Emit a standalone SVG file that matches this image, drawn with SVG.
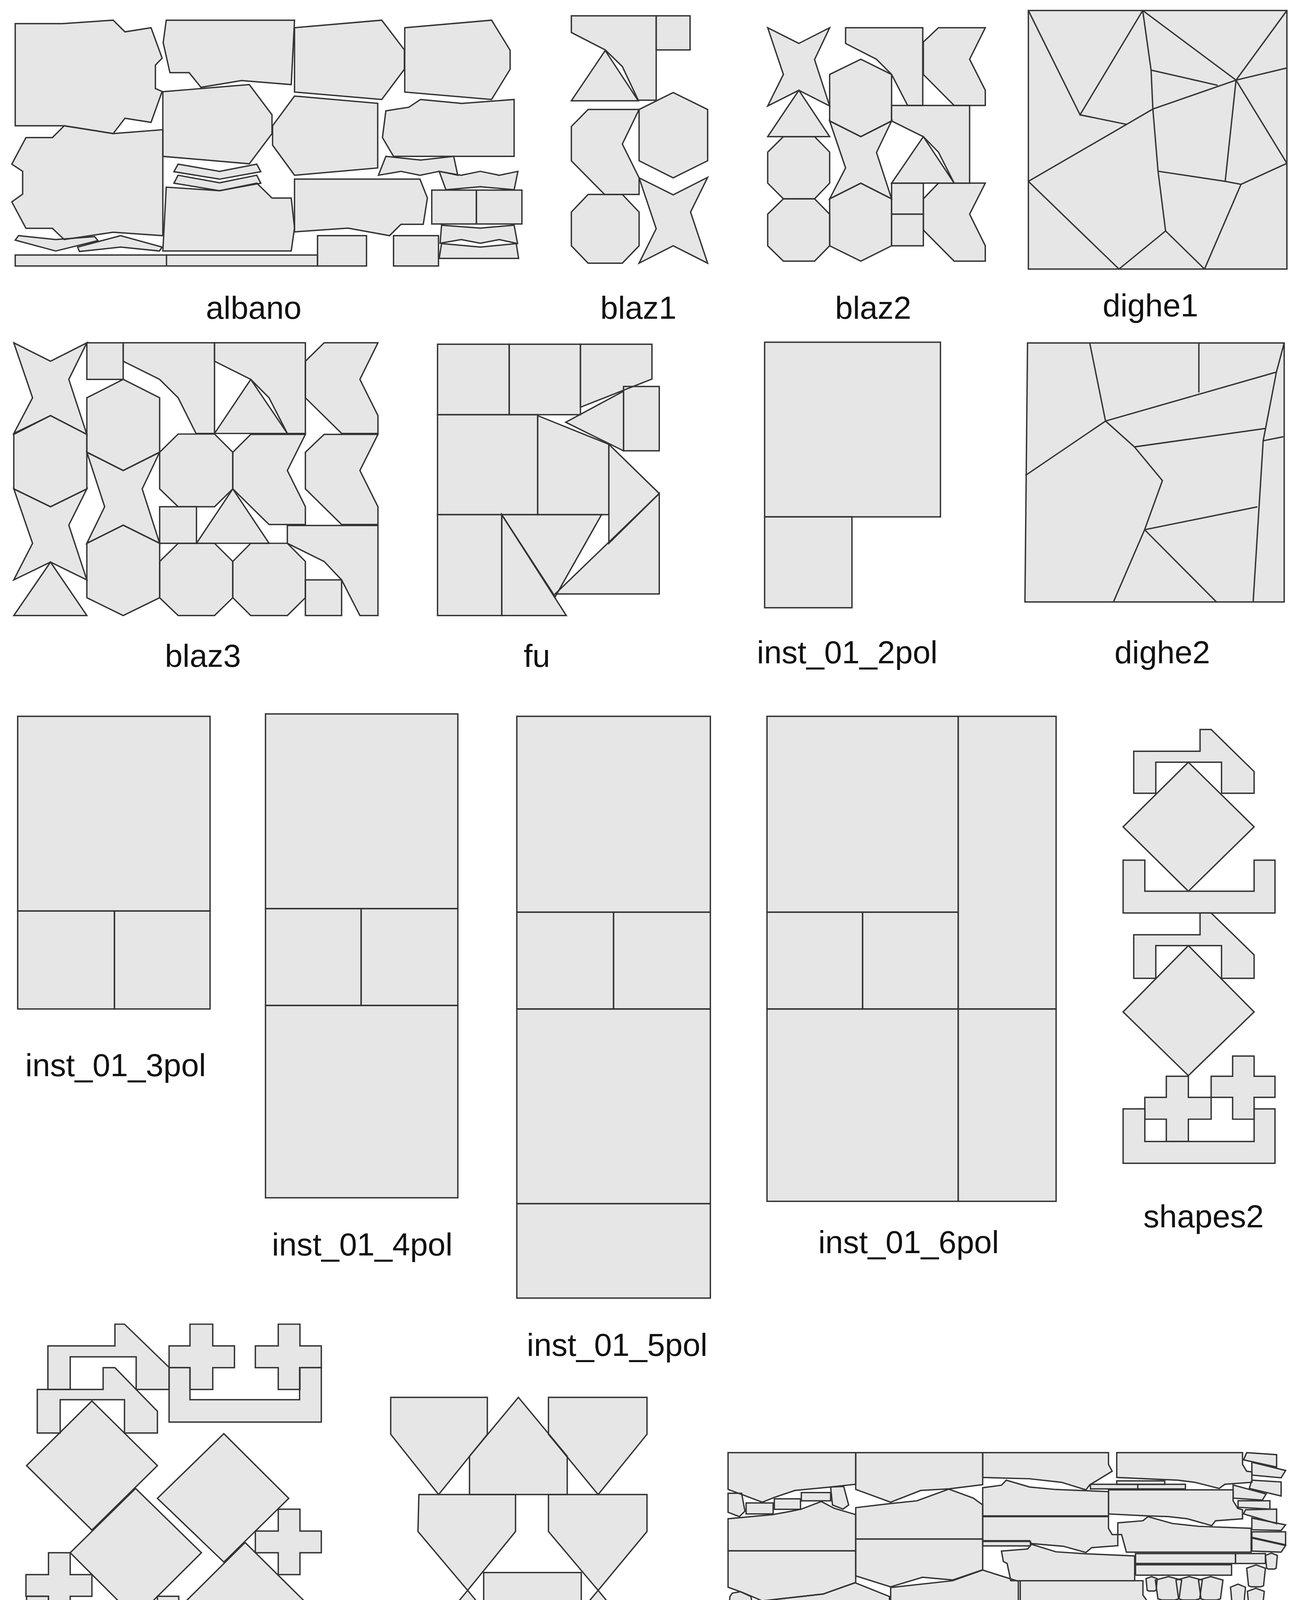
<svg xmlns="http://www.w3.org/2000/svg" width="3324" height="4743" viewBox="0 0 3324 4743">
<style>
.fo{fill:#e6e6e6;stroke:none}
.so{fill:none;stroke:#333;stroke-width:1.15;stroke-linejoin:miter}
text{font-family:"Liberation Sans",Arial,sans-serif;font-size:27px;fill:#111;text-anchor:middle}
</style>
<defs>
<g id="s_albano">
<polygon points="12.9,20 53,20 95.9,17.1 105.9,27 128,23.5 137.4,49.3 131.7,55.2 131.7,75 137.4,77.5 128,103.7 105.9,100.2 95.9,113.2 54.4,106.6 12.9,106.6"/>
<polygon points="140.9,17.1 249.6,17.1 246.8,71.7 204.7,68.3 170.3,74 160.3,61.6 144,61.6 138.3,36.1"/>
<polygon points="249.6,23.5 323.5,17.1 342.7,42.3 342.7,58.7 323.5,84.3 249.6,78"/>
<polygon points="343,23.5 416.6,17.1 432.3,42.6 432.3,58.7 416.6,84.3 343,78"/>
<polygon points="138,77.7 211.3,71.7 230.5,97.3 230.5,113.2 211.3,138.8 138,132.5"/>
<polygon points="249.6,81.4 320.1,87.6 320.1,142.3 249.6,148.5 231,123 231,106.6"/>
<polygon points="356.4,84.3 391.4,87.6 435.7,84.3 435.7,132.5 333.5,132.5 324.1,116.6 327,93.9 346.4,90.9"/>
<polygon points="54.4,106.6 95.9,113.2 138,109.9 138,199.7 95.9,196.8 54.4,203 44.4,193.5 22,193.5 10,171.1 19.2,164.5 19.2,145.2 10,139.1 22,116.6 44.4,116.6"/>
<polygon points="150.9,139.1 186.1,145.2 217.6,139.1 221,145.5 186.1,151.8 147.4,145.5"/>
<polygon points="150.9,148.5 186.1,154.9 217.6,148.5 221,155.2 186.1,161.6 147.4,155.2"/>
<polygon points="140.9,158.6 186.1,161.6 217.6,155.2 230.5,167.8 246.8,167.8 249.6,193.1 246.8,212.7 138,212.7"/>
<polygon points="249.6,151.8 355.9,151.8 362.2,167.8 358.7,190.1 339.8,190.1 330.1,199.7 294.9,193.3 249.6,196.5"/>
<polygon points="327,132.5 356.4,135.6 384.5,132.5 387.9,148.5 372.2,145.2 355.9,148.5 339.8,145.2 320.7,148.5"/>
<polygon points="372.2,145.2 390.8,148.5 407.1,145.2 423.1,148.5 438.9,145.2 435.7,160.8 407.1,158.2 377.9,160.8"/>
<rect x="365.9" y="161.1" width="37.8" height="28.7"/>
<rect x="403.7" y="161.1" width="38.6" height="28.7"/>
<polygon points="374.2,190.8 407.1,193.3 435.7,190.8 438.6,206.4 423.1,203 407.1,206.1 390.8,203 373,206.1"/>
<polygon points="374.2,206.4 407.1,209.4 437.5,206.4 439.5,219 372.2,219"/>
<polygon points="15.7,199.7 47.2,203 80.2,200.5 83,203.9 47.2,212.7 12.9,203.5"/>
<polygon points="65.8,209.4 102.2,199.7 137.4,209.4 135.1,212.7 102.2,209.4 67.3,213.1"/>
<rect x="12.9" y="216.1" width="256.2" height="9.3"/>
<line x1="141.1" y1="216.1" x2="141.1" y2="225.4"/>
<rect x="269.1" y="199.7" width="41.5" height="25.7"/>
<rect x="333.5" y="199.7" width="38.1" height="25.7"/>
</g>
<g id="s_blaz1">
<polygon points="484.2,13.4 556.1,13.4 556.1,84.9 540.9,84.9 527.4,56.4 512.9,42.3 484.2,27.5"/>
<rect x="556.1" y="13.4" width="28.7" height="28.9"/>
<polygon points="484.2,85.4 512.9,42.8 540.9,85.4"/>
<polygon points="498.4,92.8 541.6,92.8 527.4,122.1 541.6,150.7 541.6,164.8 512.4,164.8 484.2,136.3 484.2,107.2"/>
<polygon points="541.6,92.8 570.5,78.4 599.7,92.8 599.7,136.2 570.5,150.7 541.6,136.2"/>
<polygon points="498.4,164.8 527.4,164.8 541.6,179.7 541.6,208.3 527.4,223 498.4,223 484.2,208.3 484.2,179.7"/>
<polygon points="541.6,150.7 570.5,165.1 599.7,150.3 585.2,179.7 599.7,223 570.5,208.3 541.6,223 556.1,193.8"/>
</g>
<g id="s_blaz2">
<polygon points="650.6,23.5 677,36.8 703.1,23.5 690.3,50.5 703.1,89.8 677,76.5 650.6,89.8 663.9,63.1"/>
<polygon points="650.6,115.8 677,76.5 703.1,115.8"/>
<polygon points="663.9,115.8 690.3,115.8 703.1,128.9 703.1,155.2 690.3,168.5 663.9,168.5 650.6,155.2 650.6,128.9"/>
<polygon points="663.9,168.5 690.3,168.5 703.1,181.5 703.1,208.3 690.3,221.3 663.9,221.3 650.6,208.3 650.6,181.5"/>
<polygon points="716.6,23.5 782,23.5 782,89.4 769.2,89.4 755.6,63.1 742.8,50.2 716.6,36.8"/>
<polygon points="795.3,23.5 835,23.5 821.7,50.2 835,76.5 835,89.4 808.6,89.4 782.5,63.1 782.5,35.6"/>
<polygon points="703.1,63.1 729.5,50.2 755.6,63.1 755.6,102.5 729.5,115.8 703.1,102.5"/>
<polygon points="703.1,102.5 729.5,115.8 755.6,102.5 742.8,129.2 755.6,168.5 729.5,155.2 703.1,168.5 716.6,142.3"/>
<polygon points="703.1,168.5 729.5,155.2 755.6,168.5 755.6,208.3 729.5,221.3 703.1,208.3"/>
<polygon points="755.6,89.4 821.7,89.4 821.7,155.2 808.6,155.2 795.3,128.9 782.5,115.8 755.6,102.5"/>
<polygon points="755.6,155.2 782.5,115.8 808.6,155.2"/>
<rect x="755.6" y="155.2" width="26.9" height="26.3"/>
<rect x="755.6" y="181.5" width="26.9" height="26.8"/>
<polygon points="795.3,155.2 835,155.2 821.7,181.5 835,208.3 835,221.3 808.6,221.3 782.5,195 782.5,168.5"/>
</g>
<g id="s_dighe1">
<rect x="871.5" y="8.9" width="219.1" height="219.1"/>
<polyline points="871.5,8.9 915.3,97.3 968.4,8.9"/>
<polyline points="915.3,97.3 954.7,105.4"/>
<polyline points="871.5,153.7 954.7,105.4 977,92.4 1047.5,67.9"/>
<polyline points="968.4,8.9 975.5,59.4 977,92.4 981.4,145.1 987.8,195.7"/>
<polyline points="975.5,59.4 1031.9,72.3"/>
<polyline points="968.4,8.9 1047.5,67.9 1090.6,8.9"/>
<polyline points="1047.5,67.9 1090.6,57.6"/>
<polyline points="1047.5,67.9 1090.6,138.4"/>
<polyline points="1047.5,67.9 1038.3,153.7"/>
<polyline points="981.4,145.1 1038.3,153.7 1051.7,156.2 1090.6,138.4"/>
<polyline points="1051.7,156.2 1020.8,228"/>
<polyline points="871.5,153.7 948.3,228 987.8,195.7 1020.8,228"/>
</g>
<g id="s_blaz3">
<polygon points="11.7,290.5 42.8,306.1 73.6,290.5 58.3,321.5 73.6,368.1 42.8,352.2 11.7,367.3 27.6,337.1"/>
<polygon points="11.7,368.1 42.8,352.2 73.6,368.1 73.6,414.3 42.8,429.4 11.7,414.3"/>
<polygon points="11.7,414.3 42.8,429.4 73.6,414.3 58.3,445 73.6,491.4 42.8,476.3 11.7,491.4 27.6,460.4"/>
<polygon points="11.7,521.6 42.8,476.3 73.6,521.6"/>
<rect x="73.6" y="290.5" width="30.8" height="31"/>
<polygon points="104.4,290.5 181.8,290.5 181.8,367.3 166.1,367.3 151,337.1 135.3,321.5 104.4,306.1"/>
<polygon points="73.6,337.1 104.4,321.5 135.3,337.1 135.3,383.2 104.4,398.7 73.6,383.2"/>
<polygon points="73.6,383.2 104.4,398.7 135.3,383.2 120.5,414.3 135.3,460.4 104.4,445 73.6,460.4 88.7,429.4"/>
<polygon points="73.6,460.4 104.4,445 135.3,460.4 135.3,506.5 104.4,521.6 73.6,506.5"/>
<polygon points="181.8,290.5 258.8,290.5 258.8,367.3 243.5,367.3 228,337.1 212.5,321.5 181.8,306.1"/>
<polygon points="181.8,367.3 212.5,321.5 243.5,367.3"/>
<polygon points="274.7,290.5 320.3,290.5 305,321.5 320.3,352.2 320.3,367.3 289.5,367.3 258.8,337.1 258.8,306.1"/>
<polygon points="151,367.8 181.8,367.8 197.3,383.2 197.3,414.3 181.8,429.4 151,429.4 135.3,414.3 135.3,383.2"/>
<polygon points="212.5,368.1 258.8,368.1 243.5,398.7 258.8,429.4 258.8,444.5 228,444.5 197.3,414.3 197.3,383.2"/>
<polygon points="274.7,368.1 320.3,368.1 305,398.7 320.3,429.4 320.3,444.5 289.5,444.5 258.8,414.3 258.8,383.2"/>
<rect x="135.3" y="429.4" width="31.2" height="31"/>
<polygon points="166.5,460.4 197.3,414.3 228,460.4"/>
<polygon points="243.5,445.3 320.3,445.3 320.3,521.6 305,521.6 289.5,491.4 274.7,475.8 243.5,460.4"/>
<polygon points="151,460.4 181.8,460.4 197.3,475.8 197.3,506.5 181.8,521.6 151,521.6 135.3,506.5 135.3,475.8"/>
<polygon points="212.5,460.4 243.5,460.4 258.8,475.8 258.8,506.5 243.5,521.6 212.5,521.6 197.3,506.5 197.3,475.8"/>
<rect x="258.8" y="491.4" width="30.7" height="30.2"/>
</g>
<g id="s_fu">
<rect x="370.8" y="291.7" width="60.7" height="59.7"/>
<rect x="431.5" y="291.7" width="60.4" height="59.7"/>
<polygon points="491.9,291.7 552.5,291.7 552.5,321.2 491.9,345.1"/>
<rect x="528.4" y="327.5" width="30.3" height="54.5"/>
<polygon points="479.4,357.8 528.4,331.5 528.4,382"/>
<rect x="370.8" y="351.4" width="84.8" height="84.7"/>
<polygon points="455.6,352.2 516,376.5 516,436.1 455.6,436.1"/>
<polygon points="516,376.5 558.7,418.2 516,460.4"/>
<polygon points="470.5,503.3 558.7,418.2 558.7,503.3"/>
<rect x="370.8" y="436.1" width="54.4" height="85.5"/>
<polygon points="425.2,436.1 509.8,436.1 470.5,505.7"/>
<polygon points="425.2,436.1 425.2,521.6 479.9,521.6"/>
</g>
<g id="s_inst2">
<rect x="648" y="290" width="149" height="148"/>
<rect x="648" y="438" width="74" height="77"/>
</g>
<g id="s_dighe2">
<polygon points="870.8,290.6 1088.3,290.6 1088.3,510.1 868.6,510.1"/>
<polyline points="923.5,290.6 936.9,356.8 869,402.9"/>
<polyline points="936.9,356.8 1081.7,315.3"/>
<polyline points="1016,290.6 1016,332.6"/>
<polyline points="936.9,356.8 961.4,378.7 1072,363.1"/>
<polyline points="961.4,378.7 985.1,407.3 970,448.9 943.6,510.1"/>
<polyline points="970,448.9 1065.6,429.5"/>
<polyline points="970,448.9 1030.9,510.1"/>
<polyline points="1088.3,290.6 1081.7,315.3 1070.5,373.5 1062,510.1"/>
<polyline points="1070.5,373.5 1087.6,370.1"/>
</g>
<g id="s_inst3">
<rect x="15" y="607" width="163" height="165"/>
<rect x="15" y="772" width="82" height="83"/>
<rect x="97" y="772" width="81" height="83"/>
</g>
<g id="s_inst4">
<rect x="225" y="605" width="163" height="165"/>
<rect x="225" y="770" width="81" height="82"/>
<rect x="306" y="770" width="82" height="82"/>
<rect x="225" y="852" width="163" height="163"/>
</g>
<g id="s_inst5">
<rect x="438" y="607" width="164" height="166"/>
<rect x="438" y="773" width="82" height="82"/>
<rect x="520" y="773" width="82" height="82"/>
<rect x="438" y="855" width="164" height="165"/>
<rect x="438" y="1020" width="164" height="80"/>
</g>
<g id="s_inst6">
<rect x="650" y="607" width="162" height="166"/>
<rect x="650" y="773" width="81" height="82"/>
<rect x="731" y="773" width="81" height="82"/>
<rect x="650" y="855" width="162" height="163"/>
<rect x="812" y="607" width="83" height="248"/>
<rect x="812" y="855" width="83" height="163"/>
</g>
<g id="s_shapes2">
<polygon points="960.8,636.6 1017,636.6 1017,618.2 1026.4,618.2 1062.8,653.8 1062.8,672.2 1035.2,672.2 1035.2,645.9 979.5,645.9 979.5,672.2 960.8,672.2"/>
<polygon points="951.8,700.7 1007.1,645.9 1062.8,700.7 1007.1,755.2"/>
<polygon points="951.8,728.9 970.2,728.9 970.2,755.2 1062.8,755.2 1062.8,728.9 1080.5,728.9 1080.5,773.7 951.8,773.7"/>
<polygon points="960.8,792.1 1017,792.1 1017,773.7 1026.4,773.7 1062.8,809.2 1062.8,829 1035.2,829 1035.2,801.3 979.5,801.3 979.5,829 960.8,829"/>
<polygon points="951.8,857.5 1007.1,801.3 1062.8,857.5 1007.1,911.5"/>
<polygon points="951.8,939.7 970.2,939.7 970.2,967.3 1062.8,967.3 1062.8,939.7 1080.5,939.7 1080.5,985.8 951.8,985.8"/>
<polygon points="988.4,912 1007.1,912 1007.1,929.9 1026.4,929.9 1026.4,948.4 1007.1,948.4 1007.1,967.3 988.4,967.3 988.4,948.4 970.2,948.4 970.2,929.9 988.4,929.9"/>
<polygon points="1044.6,894.9 1062.8,894.9 1062.8,912 1080.5,912 1080.5,929.9 1062.8,929.9 1062.8,948.4 1044.6,948.4 1044.6,929.9 1026.4,929.9 1026.4,912 1044.6,912"/>
</g>
<g id="s_shapes4">
<polygon points="40.6,1140.5 97.4,1140.5 97.4,1122.1 105.5,1122.1 143.3,1158.7 143.3,1177.4 115.4,1177.4 115.4,1149.8 59.5,1149.8 59.5,1177.4 40.6,1177.4"/>
<polygon points="31.6,1177.4 87.4,1177.4 87.4,1159 97.4,1159 133.4,1195.9 133.4,1214.3 105.5,1214.3 105.5,1186.1 51,1186.1 51,1214.3 31.6,1214.3"/>
<polygon points="143.3,1159 161,1159 161,1186.1 253.9,1186.1 253.9,1159 272.3,1159 272.3,1205.1 143.3,1205.1"/>
<polygon points="161,1122.1 180.3,1122.1 180.3,1140.5 198.7,1140.5 198.7,1159 180.3,1159 180.3,1177.4 161,1177.4 161,1159 143.3,1159 143.3,1140.5 161,1140.5"/>
<polygon points="235.8,1122.1 254.2,1122.1 254.2,1140.5 272.3,1140.5 272.3,1159 254.2,1159 254.2,1177.4 235.8,1177.4 235.8,1159 216.4,1159 216.4,1140.5 235.8,1140.5"/>
<polygon points="22.5,1242 77.9,1187.2 133.4,1242 77.9,1296.6"/>
<polygon points="133.4,1269.7 189.7,1214.9 244.7,1269.7 189.7,1323.7"/>
<polygon points="235.8,1278.9 254.2,1278.9 254.2,1297.4 272.3,1297.4 272.3,1315.8 254.2,1315.8 254.2,1334.3 235.8,1334.3 235.8,1315.8 216.4,1315.8 216.4,1297.4 235.8,1297.4"/>
<polygon points="41.1,1315.8 59.5,1315.8 59.5,1334.3 77.9,1334.3 77.9,1352.7 59.5,1352.7 59.5,1371.2 41.1,1371.2 41.1,1352.7 22,1352.7 22,1334.3 41.1,1334.3"/>
<polygon points="59.5,1315.8 114.9,1261.3 170.7,1315.8 114.9,1371.2"/>
<polygon points="152.4,1362 207.7,1307.1 263.2,1362 207.7,1416"/>
<polygon points="22.5,1352.7 41.1,1352.7 41.1,1379.1 133.4,1379.1 133.4,1352.7 151.5,1352.7 151.5,1398.3 22.5,1398.3"/>
<polygon points="22.5,1398.3 41.1,1398.3 41.1,1425.2 133.4,1425.2 133.4,1398.3 151.5,1398.3 151.5,1444.5 22.5,1444.5"/>
<polygon points="22.5,1444.5 41.1,1444.5 41.1,1471.3 133.4,1471.3 133.4,1444.5 151.5,1444.5 151.5,1490.3 22.5,1490.3"/>
<polygon points="170.4,1417.3 226.3,1417.3 226.3,1398.9 236.2,1398.9 272.3,1435.8 272.3,1453.7 244.7,1453.7 244.7,1425.7 189.7,1425.7 189.7,1453.7 170.4,1453.7"/>
<polygon points="152.4,1453.7 207.3,1453.7 207.3,1435.8 216.9,1435.8 254.2,1472.1 254.2,1490.3 226.3,1490.3 226.3,1463.4 170.7,1463.4 170.7,1490.3 152.4,1490.3"/>
</g>
<g id="s_spfc">
<polygon points="397.9,1234 439.3,1184.1 480.7,1234 480.7,1266.5 397.9,1266.5"/>
<polygon points="331.1,1184.1 413,1184.1 413,1215.4 371.7,1266.5 331.1,1215.4"/>
<polygon points="464.8,1184.1 548.3,1184.1 548.3,1215.4 506.9,1266.5 464.8,1215.4"/>
<polygon points="355,1266.5 436.9,1266.5 436.9,1297.8 396.3,1347.7 354.2,1297.8"/>
<polygon points="464.8,1266.5 548.3,1266.5 548.3,1297.8 506.9,1347.7 464.8,1297.8"/>
<polygon points="409.9,1332.6 492.6,1332.6 492.6,1364 451.2,1415 409.9,1364"/>
<polygon points="355,1397.6 396.3,1347.7 437.7,1397.6 437.7,1429.6 355,1429.6"/>
<polygon points="464.8,1397.6 506.9,1347.7 548.3,1397.6 548.3,1429.6 464.8,1429.6"/>
<polygon points="397.9,1429.6 480.7,1429.6 480.7,1461.4 439.3,1512.4 397.9,1461.4"/>
<polygon points="331.1,1480 371.7,1429.6 413,1480 412.2,1512.4 331.1,1512.4"/>
<polygon points="464.8,1480 506.9,1429.6 548.3,1480 548.3,1512.4 464.8,1512.4"/>
</g>
<g id="s_trousers">
<polygon points="617,1231 725.2,1231 725.2,1257.8 703.9,1260.1 673.7,1263 656.2,1268.9 646,1273 629.1,1266.6 617,1262.1"/>
<polygon points="617,1265.4 628.5,1265.4 631.3,1280.6 626.6,1285.2 617,1281.5"/>
<rect x="632.3" y="1273.6" width="22.9" height="9.3"/>
<rect x="656.2" y="1270.1" width="22.2" height="8.9"/>
<rect x="679.1" y="1264.8" width="24.8" height="7"/>
<polygon points="703.9,1260.1 715,1259.6 719.2,1275.3 714.4,1278.8 705.5,1275.3"/>
<polygon points="617,1287 654.6,1283.5 670.5,1280.6 679.1,1278.8 696,1272.4 707.1,1278.2 725.2,1283.5 725.2,1314.2 617,1314.2"/>
<polygon points="617,1314.2 725.2,1314.2 725.2,1341 697.5,1350.8 646,1356.6 629.1,1349.4 617,1345"/>
<polygon points="620.6,1350 627.5,1348.8 636.4,1352.9 639.3,1369.2 617,1369.2 618.6,1352.9"/>
<rect x="617" y="1369.8" width="26.4" height="10.2"/>
<polygon points="646,1356.6 697.5,1350.8 724.6,1341.2 753.8,1352.9 753.8,1383.3 646,1383.3"/>
<polygon points="725.2,1231 832.8,1231 832.8,1258.1 804.1,1261.7 780.3,1263 754.8,1273 725.2,1262.1"/>
<polygon points="725.2,1277.6 754.8,1274.1 777,1271.8 804.1,1261.9 824.8,1269.5 832.8,1275.3 832.8,1304.1 725.2,1304.1"/>
<polygon points="725.2,1304.1 832.8,1304.1 832.8,1330.2 807.3,1338.9 781.8,1336.6 754.8,1344.7 725.2,1335.4"/>
<polygon points="754.8,1345.3 807.3,1339.5 832.8,1330.5 863,1340 863,1371.6 754.8,1371.6"/>
<rect x="754.8" y="1371.6" width="108.2" height="10.4"/>
<polygon points="832.8,1231 939.4,1231 939.4,1240.9 942.5,1246.7 923.4,1258.4 920.3,1262.5 899.6,1256.1 872.5,1253.1 832.8,1252"/>
<polygon points="832.8,1260.7 848.7,1258.6 852.8,1254.3 872.5,1260.1 894.6,1262.2 939.4,1264 939.4,1284.6 832.8,1284.6"/>
<polygon points="832.8,1285.2 939.4,1285.2 939.4,1295.1 942.5,1300.4 947.3,1300.4 947.3,1309.8 925.1,1311.5 920.3,1315.6 901.2,1310.3 874.1,1308 872.5,1305.6 832.8,1305.6"/>
<rect x="832.8" y="1306.2" width="40.4" height="3.8"/>
<polygon points="848.7,1314.4 870.9,1312.6 874.1,1308.6 894.8,1315 920.3,1316.7 961.6,1318.5 961.6,1339.5 856.6,1339.5 853.5,1324.9 850.3,1323.2"/>
<polygon points="864.6,1339.5 968.6,1339.5 968.6,1351.7 977.5,1364 955.3,1365.8 948.9,1369.8 929.8,1364.6 904.3,1360.5 864.6,1360.5"/>
<rect x="864.6" y="1361.1" width="39.7" height="2.3"/>
<rect x="864.6" y="1364.6" width="39.7" height="2.9"/>
<polygon points="904.3,1360.5 929.8,1362.3 929.8,1367.5 904.3,1367.5"/>
<rect x="864.6" y="1370.2" width="99.6" height="9.6"/>
<rect x="864.6" y="1379.8" width="80.4" height="3.5"/>
<line x1="904.3" y1="1379.8" x2="904.3" y2="1383.3"/>
<polygon points="946.4,1231 1053,1231 1053,1240.9 1056.5,1246.7 1060.9,1247.3 1060.9,1256.1 1038,1257.8 1033.2,1261.3 1012.5,1256.1 998.2,1254.3 946.4,1252"/>
<rect x="946.4" y="1254.9" width="40.7" height="2.9"/>
<rect x="924.1" y="1257.8" width="80.5" height="3.9"/>
<line x1="964.2" y1="1257.8" x2="964.2" y2="1261.7"/>
<polygon points="939.4,1262.5 1045,1262.5 1045,1271.8 1049,1278.2 1053,1279.4 1053,1287 1030.1,1288.7 1026.9,1292.8 1006.2,1287 990.3,1285.2 972.8,1284.6 939.4,1282.9"/>
<polygon points="947.3,1290.5 968.6,1288.7 972.8,1285.2 993.5,1291 1015.7,1293.4 1060.3,1295.1 1060.3,1315.3 954.6,1315.3 950.5,1300.4 947.3,1300.4"/>
<rect x="962.3" y="1316.5" width="84.7" height="8.4"/>
<rect x="1047" y="1316.5" width="25.4" height="8.4"/>
<rect x="962.3" y="1326" width="81.4" height="8.8"/>
<polygon points="1056.5,1231 1081.9,1232.7 1081.9,1243.2 1053.9,1237.1"/>
<polygon points="1060.9,1239.1 1089.5,1246.1 1085.7,1252.3 1060.9,1250"/>
<polygon points="1060.9,1254.3 1085.7,1255.8 1085.7,1267.7 1058.7,1261.3"/>
<polygon points="1045,1258.4 1073,1266 1069.8,1271.2 1045,1269.5"/>
<polygon points="1049.2,1271.8 1076.2,1271.8 1076.2,1278.8 1049.2,1277.3"/>
<polygon points="1055.5,1279.4 1081.9,1278.8 1081.9,1291.1 1053.9,1282.9"/>
<polygon points="1060.9,1286.4 1089.5,1292.2 1085.7,1296.9 1060.9,1296.3"/>
<polygon points="1060.9,1298.1 1089.5,1298.1 1089.5,1309.1 1060.9,1302.7"/>
<polygon points="1060.9,1303.3 1089.5,1309.7 1085.7,1315.3 1060.9,1314.4"/>
<polygon points="971.2,1337.8 976,1336 980.7,1337.8 979.8,1347.6 978.3,1348.2 973.6,1348.2 972.2,1347.6"/>
<polygon points="979.1,1339 990.3,1336 1001.4,1339 999.2,1354.8 995.8,1355.8 984.7,1355.8 981.3,1354.8"/>
<polygon points="996.6,1339 1007.8,1336 1018.9,1339 1016.7,1354.8 1013.3,1355.8 1002.2,1355.8 998.8,1354.8"/>
<polygon points="1015.7,1339 1026,1336 1036.4,1339 1034.3,1354.8 1031.2,1355.8 1020.9,1355.8 1017.8,1354.8"/>
<polygon points="985.5,1360.2 996.6,1357 1007.8,1360.2 1005.6,1377 1002.2,1378 991.1,1378 987.7,1377"/>
<polygon points="1004.6,1366.4 1015,1363.4 1025.3,1366.4 1023.2,1382.3 1020.1,1383.3 1009.8,1383.3 1006.7,1382.3"/>
<polygon points="1020.5,1360.2 1031.6,1357 1042.8,1360.2 1040.6,1377 1037.2,1378 1026.1,1378 1022.7,1377"/>
<polygon points="969.6,1366.4 980,1363.4 990.3,1366.4 988.2,1382.3 985.1,1383.3 974.8,1383.3 971.7,1382.3"/>
<polygon points="1042.8,1345 1049.2,1342.4 1055.5,1345 1054.2,1359 1052.3,1359.9 1046,1359.9 1044.1,1359"/>
<polygon points="1042.8,1361.9 1047.6,1359.9 1052.3,1361.9 1051.4,1372.6 1050,1373.3 1045.2,1373.3 1043.7,1372.6"/>
<polygon points="1052.3,1364.1 1057.9,1362.2 1063.5,1364.1 1062.4,1374.5 1060.7,1375.1 1055.1,1375.1 1053.4,1374.5"/>
<polygon points="1063.5,1366.2 1070.7,1363.4 1077.8,1366.2 1076.4,1381.2 1074.2,1382.1 1067.1,1382.1 1064.9,1381.2"/>
<polygon points="1056.5,1328.9 1064.5,1326.1 1072.4,1328.9 1070.8,1343.8 1068.4,1344.7 1060.5,1344.7 1058.1,1343.8"/>
<polygon points="1072.4,1318.1 1077.5,1316.1 1082.5,1318.1 1081.5,1328.9 1080,1329.6 1074.9,1329.6 1073.4,1328.9"/>
<polygon points="1057.1,1348.5 1064.3,1345.9 1071.4,1348.5 1070,1362.5 1067.8,1363.4 1060.7,1363.4 1058.5,1362.5"/>
<rect x="1038" y="1375.7" width="28" height="7.6"/>
</g>
</defs>
<rect x="0" y="0" width="3324" height="4743" fill="#fff"/>
<g transform="scale(3.0218,3.021)">
<g id="albano"><use href="#s_albano" class="fo"/><use href="#s_albano" class="so"/></g>
<g id="blaz1"><use href="#s_blaz1" class="fo"/><use href="#s_blaz1" class="so"/></g>
<g id="blaz2"><use href="#s_blaz2" class="fo"/><use href="#s_blaz2" class="so"/></g>
<g id="dighe1"><use href="#s_dighe1" class="fo"/><use href="#s_dighe1" class="so"/></g>
<g id="blaz3"><use href="#s_blaz3" class="fo"/><use href="#s_blaz3" class="so"/></g>
<g id="fu"><use href="#s_fu" class="fo"/><use href="#s_fu" class="so"/></g>
<g id="inst_01_2pol"><use href="#s_inst2" class="fo"/><use href="#s_inst2" class="so"/></g>
<g id="dighe2"><use href="#s_dighe2" class="fo"/><use href="#s_dighe2" class="so"/></g>
<g id="inst_01_3pol"><use href="#s_inst3" class="fo"/><use href="#s_inst3" class="so"/></g>
<g id="inst_01_4pol"><use href="#s_inst4" class="fo"/><use href="#s_inst4" class="so"/></g>
<g id="inst_01_5pol"><use href="#s_inst5" class="fo"/><use href="#s_inst5" class="so"/></g>
<g id="inst_01_6pol"><use href="#s_inst6" class="fo"/><use href="#s_inst6" class="so"/></g>
<g id="shapes2"><use href="#s_shapes2" class="fo"/><use href="#s_shapes2" class="so"/></g>
<g id="shapes4"><use href="#s_shapes4" class="fo"/><use href="#s_shapes4" class="so"/></g>
<g id="spfc_instance"><use href="#s_spfc" class="fo"/><use href="#s_spfc" class="so"/></g>
<g id="trousers"><use href="#s_trousers" class="fo"/><use href="#s_trousers" class="so"/></g>
<g id="labels">
<text x="215" y="270">albano</text>
<text x="541" y="270">blaz1</text>
<text x="740" y="270">blaz2</text>
<text x="975" y="268">dighe1</text>
<text x="172" y="565">blaz3</text>
<text x="455" y="565">fu</text>
<text x="718" y="562">inst_01_2pol</text>
<text x="985" y="562">dighe2</text>
<text x="98" y="912">inst_01_3pol</text>
<text x="307" y="1064">inst_01_4pol</text>
<text x="523" y="1149">inst_01_5pol</text>
<text x="770" y="1062">inst_01_6pol</text>
<text x="1020" y="1040">shapes2</text>
<text x="137" y="1540">shapes4</text>
<text x="443" y="1554">spfc_instance</text>
<text x="858" y="1437">trousers</text>
</g>
</g>
</svg>
